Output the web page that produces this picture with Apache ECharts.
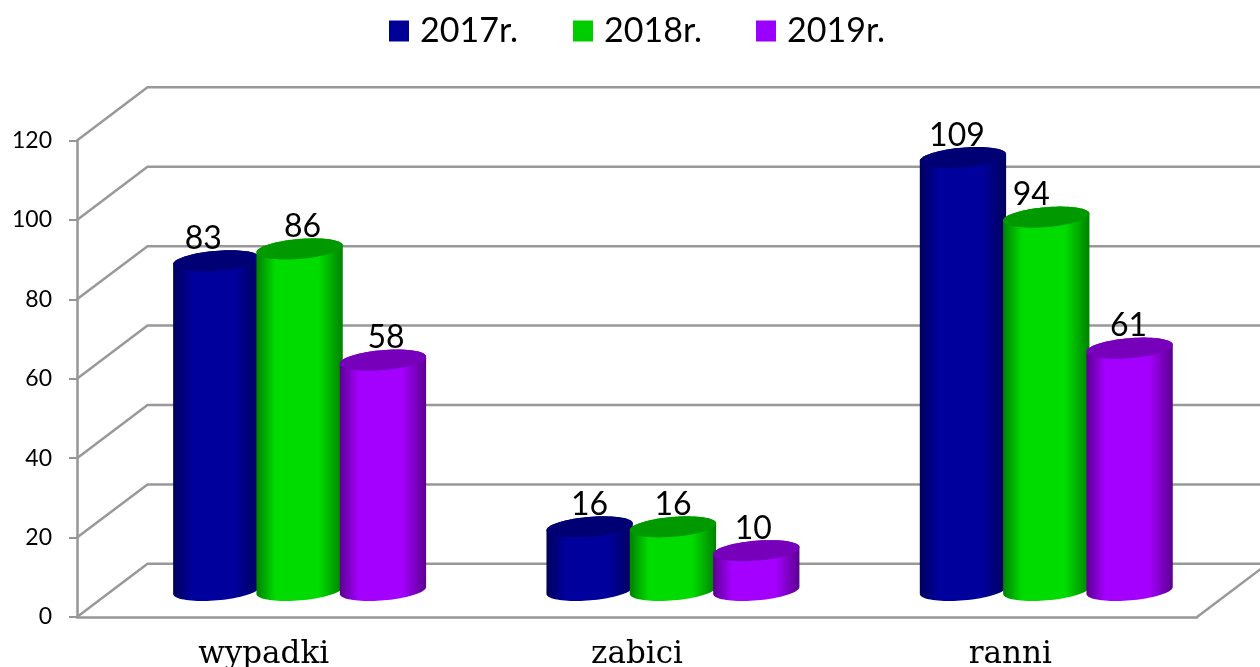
<!DOCTYPE html>
<html><head><meta charset="utf-8">
<style>html,body{margin:0;padding:0;background:#fff}#c{width:1260px;height:667px}</style>
<script src="https://cdn.jsdelivr.net/npm/echarts@6/dist/echarts.min.js"></script>
</head><body><div id="c"></div>
<script>
const categories = ['wypadki', 'zabici', 'ranni'];
const yTicks = [0, 20, 40, 60, 80, 100, 120];
const values2017 = [83, 16, 109];
const values2018 = [86, 16, 94];
const values2019 = [58, 10, 61];

const depthX = 70.5, depthY = -53.2;
const style = [
  {name:'2017r.', data:values2017, color:'#000096', edge:'#00005c', mid:'#00009c', top:'#000074', nudge:[-13,0,-6], legendLeft:389},
  {name:'2018r.', data:values2018, color:'#00cc00', edge:'#008200', mid:'#00dc00', top:'#009a00', nudge:[3,0,-15], legendLeft:573},
  {name:'2019r.', data:values2019, color:'#9900ff', edge:'#5c0090', mid:'#a400ff', top:'#7700bb', nudge:[3,-3,-1], legendLeft:756}
];
const spacing = 0.2232, widthShare = 0.232, tilt = 4.8 * Math.PI / 180, ryShare = 0.23;

function ell(cx, cy, a, b, t) {
  const x = a * Math.cos(t), y = b * Math.sin(t);
  return [cx + x * Math.cos(tilt) + y * Math.sin(tilt), cy - x * Math.sin(tilt) + y * Math.cos(tilt)];
}

function wallItem(params, api) {
  const v = api.value(0);
  const band = api.size([1, 0])[0];
  const p0 = api.coord([0, v]);
  const xL = p0[0] - band / 2, xR = xL + band * categories.length, y = p0[1];
  const children = [{
    type:'polyline',
    shape:{points:[[xL,y],[xL+depthX,y+depthY],[xR+depthX,y+depthY]]},
    style:{fill:null, stroke:'#999999', lineWidth:2.5}
  }];
  if (v === 0) children.push({
    type:'line', shape:{x1:xR,y1:y,x2:xR+depthX,y2:y+depthY},
    style:{stroke:'#999999', lineWidth:2.5}
  });
  return {type:'group', children};
}

function barItem(s, i) {
  return function (params, api) {
    const cat = api.value(0), val = api.value(1);
    const band = api.size([1, 0])[0];
    const top0 = api.coord([cat, val]), base0 = api.coord([cat, 0]);
    const cx = top0[0] + depthX / 2 + 0.7 + (i - 1) * spacing * band;
    const a = widthShare * band / 2, b = a * ryShare;
    const ty = top0[1] + depthY / 2, by = base0[1] + depthY / 2;
    const pts = [];
    const N = 40;
    for (let k = 0; k <= N; k++) pts.push(ell(cx, by, a, b, Math.PI - Math.PI * k / N));
    for (let k = 0; k <= N; k++) pts.push(ell(cx, ty, a, b, -Math.PI * k / N));
    const lid = [];
    for (let k = 0; k < 2 * N; k++) lid.push(ell(cx, ty, a, b, Math.PI * k / N));
    const st = style[i];
    return {type:'group', children:[
      {type:'polygon', shape:{points:pts}, style:{fill:new echarts.graphic.LinearGradient(0,0,1,0,[
        {offset:0,color:st.edge},{offset:0.22,color:st.mid},{offset:0.72,color:st.mid},{offset:1,color:st.edge}])}},
      {type:'polygon', shape:{points:lid}, style:{fill:st.top}},
      {type:'text', z2:10, style:{text:String(val), x:cx + st.nudge[cat], y:ty - 22, align:'center', verticalAlign:'middle',
        font:'32px Lato', fill:'#000'}}
    ]};
  };
}

const chart = echarts.init(document.getElementById('c'), null, {renderer:'canvas'});
chart.setOption({
  animation:false,
  backgroundColor:'#fff',
  legend:style.map(s => ({
    data:[s.name], left:s.legendLeft, top:14, padding:0, icon:'rect', itemWidth:20, itemHeight:21,
    textStyle:{fontFamily:'Lato', fontSize:34, color:'#000', padding:[0,0,0,6]}
  })),
  grid:{left:77, right:63, top:140.5, bottom:50, outerBoundsMode:'none'},
  xAxis:{type:'category', data:categories, boundaryGap:true,
    axisLine:{lineStyle:{color:'#969696', width:2.5}},
    axisTick:{length:9, lineStyle:{color:'#969696', width:2}},
    axisLabel:{fontFamily:'DejaVu Serif', fontSize:31, color:'#000', margin:22}
  },
  yAxis:{type:'value', min:0, max:120, interval:20, splitLine:{show:false},
    axisLine:{show:true, lineStyle:{color:'#969696', width:2.5}},
    axisTick:{show:true, length:8, lineStyle:{color:'#969696', width:2}},
    axisLabel:{fontFamily:'Lato', fontSize:23, color:'#000', margin:25, padding:[8,0,0,0]}
  },
  series:[
    {type:'custom', name:'walls', z:1, silent:true, data:yTicks.map(v => [v]), encode:{y:0}, renderItem:wallItem, clip:false},
    ...style.map((s, i) => ({
      type:'custom', name:s.name, z:2 + i, itemStyle:{color:s.color},
      data:s.data.map((v, c) => [c, v]), encode:{x:0, y:1}, renderItem:barItem(s, i), clip:false
    }))
  ]
});
</script></body></html>
